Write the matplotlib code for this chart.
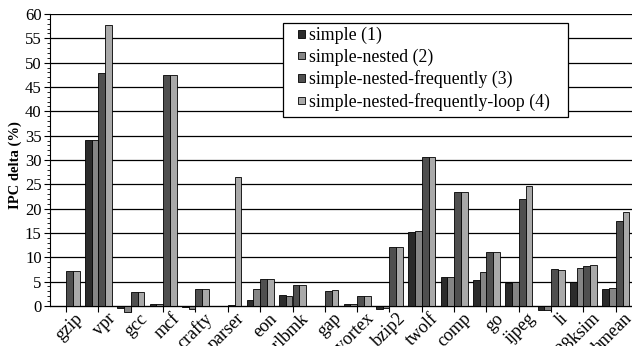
import matplotlib
matplotlib.use("Agg")
import matplotlib.pyplot as plt
import matplotlib.transforms as mtransforms
import numpy as np
from matplotlib.patches import Rectangle
from matplotlib.ticker import MultipleLocator, FixedLocator

benchmarks = ["gzip", "vpr", "gcc", "mcf", "crafty", "parser", "eon", "perlbmk",
              "gap", "vortex", "bzip2", "twolf", "comp", "go", "ijpeg", "li",
              "m88ksim", "hmean"]

simple = [-0.1, 34.1, -0.4, 0.4, -0.2, -0.1, 1.3, 2.2,
          0.0, 0.5, -0.6, 15.1, 5.9, 5.4, 4.8, -0.8, 5.0, 3.4]
simple_nested = [0.0, 34.2, -1.2, 0.4, -0.7, 0.0, 3.5, 2.0,
                 0.0, 0.5, -0.4, 15.4, 5.9, 6.9, 4.9, -0.8, 7.7, 3.6]
simple_nested_freq = [7.1, 47.8, 2.9, 47.4, 3.5, 0.2, 5.5, 4.3,
                      3.1, 2.0, 12.2, 30.6, 23.4, 11.1, 21.9, 7.5, 8.3, 17.4]
simple_nested_freq_loop = [7.1, 57.7, 2.8, 47.4, 3.4, 26.4, 5.5, 4.4,
                           3.2, 2.0, 12.2, 30.6, 23.4, 11.1, 24.6, 7.3, 8.4, 19.3]

series_names = ["simple (1)", "simple-nested (2)",
                "simple-nested-frequently (3)",
                "simple-nested-frequently-loop (4)"]
series_colors = ["#2b2b2b", "#858585", "#4f4f4f", "#a9a9a9"]

plt.rcParams["font.family"] = ["Liberation Serif", "DejaVu Serif"]

W, H = 632, 346
fig = plt.figure(figsize=(W / 100, H / 100), dpi=100)
ax = fig.add_axes([50 / W, 0.0876, 1 - 50 / W, 0.872])

x = np.arange(len(benchmarks))
width = 0.21
all_series = [simple, simple_nested, simple_nested_freq, simple_nested_freq_loop]
for i, (vals, name, col) in enumerate(zip(all_series, series_names, series_colors)):
    ax.bar(x + (i - 1.5) * width, vals, width, color=col, edgecolor="black",
           linewidth=0.6, label=name, zorder=3)

ax.set_xlim(-0.5, len(benchmarks) - 0.5)
ax.set_ylim(-2, 60)
ax.yaxis.set_major_locator(MultipleLocator(5))
ax.yaxis.set_minor_locator(FixedLocator(np.arange(0, 61, 1)))
ax.grid(axis="y", which="major", color="black", linewidth=0.9, zorder=0)

ax.spines["top"].set_visible(False)
ax.spines["right"].set_visible(False)
ax.spines["bottom"].set_position(("data", 0))
ax.spines["bottom"].set_zorder(4)
ax.spines["left"].set_bounds(0, 60)

# category labels drawn as texts: the original puts them right of the tick
ax.set_xticks(x)
ax.set_xticklabels([])
lbl_trans = mtransforms.offset_copy(ax.transData, fig=fig, x=8, y=-4, units="dots")
for xi, name in zip(x, benchmarks):
    ax.text(xi, 0, name, transform=lbl_trans, rotation=45, ha="right", va="top",
            rotation_mode="anchor", fontsize=13, clip_on=False)
ax.tick_params(axis="x", direction="out", length=4)
ax.tick_params(axis="y", which="major", direction="out", length=4, labelsize=12, pad=2)
ax.tick_params(axis="y", which="minor", direction="out", length=2)

ax.set_ylabel("IPC delta (%)", fontweight="bold", fontsize=10.5, labelpad=2)

# legend frame drawn separately so the padding can match the original
frame = Rectangle((283 / W, 1 - 117 / H), (568 - 283) / W, (117 - 23) / H,
                  transform=fig.transFigure, facecolor="white", edgecolor="black",
                  linewidth=0.9, zorder=5)
fig.add_artist(frame)
leg = ax.legend(loc="upper left", bbox_to_anchor=(298 / W, 1 - 27 / H),
                bbox_transform=fig.transFigure, fontsize=12.8, frameon=False,
                handlelength=0.39, handleheight=0.28, handletextpad=0.22,
                borderpad=0, borderaxespad=0, labelspacing=0.25)
leg.set_zorder(6)
leg.remove()
fig.add_artist(leg)

fig.savefig("out.png", dpi=100)
